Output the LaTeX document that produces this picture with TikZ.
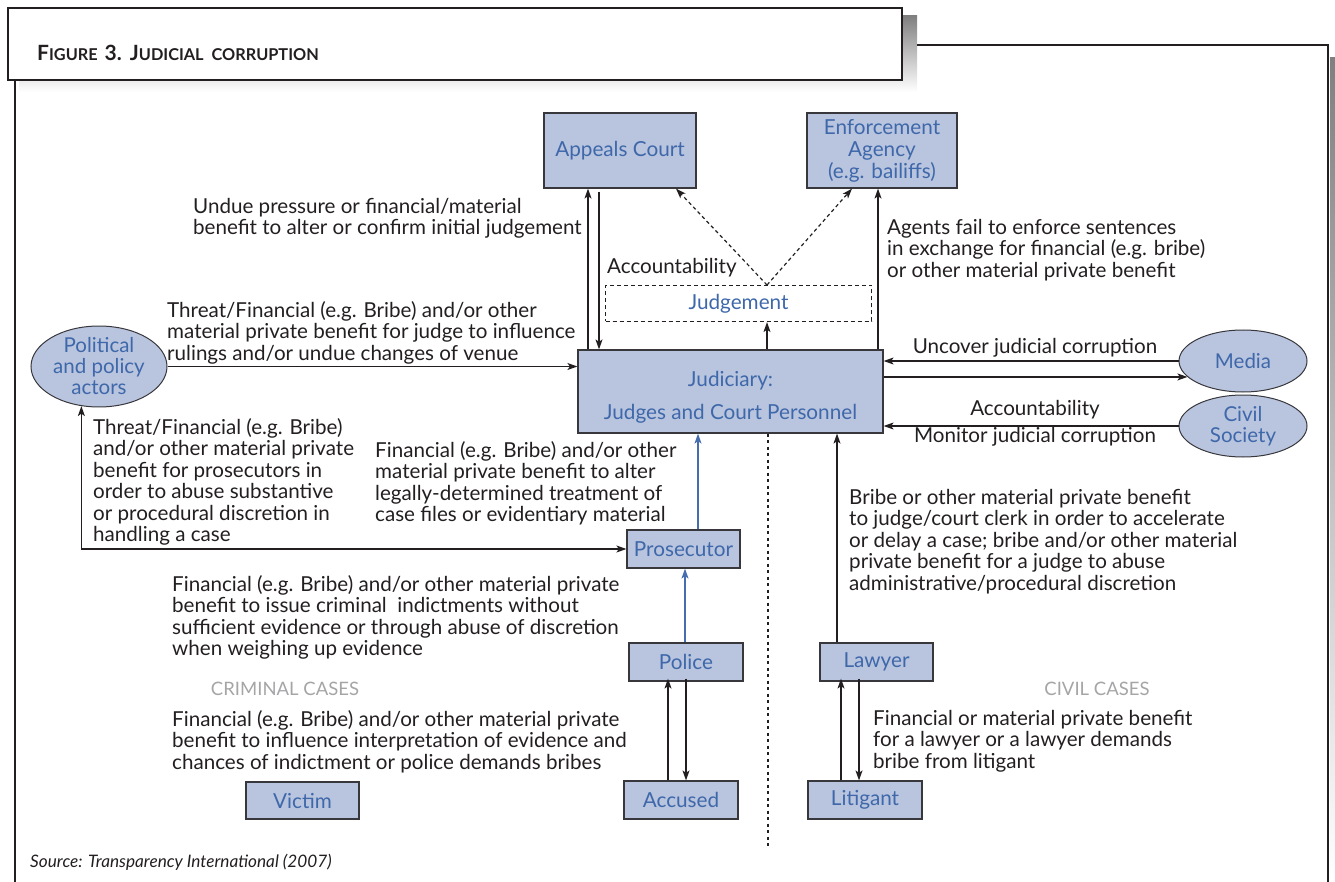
\documentclass[tikz,border=0pt]{standalone}
\usepackage{fontspec}
\setmainfont{Lato}
\usetikzlibrary{shapes.geometric,arrows.meta}
\definecolor{boxfill}{RGB}{185,196,222}
\definecolor{boxtext}{RGB}{62,104,170}
\definecolor{boxline}{RGB}{55,55,60}
\definecolor{shade}{RGB}{221,222,225}
\definecolor{labgray}{RGB}{165,165,168}
\definecolor{arrblue}{RGB}{70,110,175}
\definecolor{txt}{RGB}{35,31,32}
\newcommand\fakesc[2]{{\fontsize{21}{22}\selectfont #1}{\fontsize{16.3}{22}\selectfont #2}}
\begin{document}
\begin{tikzpicture}[x=1pt,y=-1pt,
  box/.style={draw=boxline, line width=1.2pt, fill=boxfill, text=boxtext, inner sep=0pt, align=center, font=\fontsize{20.7}{21.5}\selectfont},
  oval/.style={ellipse, draw=boxline, line width=1pt, fill=boxfill, text=boxtext, inner sep=0pt, align=center, font=\fontsize{20.5}{21}\selectfont},
  lab/.style={anchor=north west, inner sep=0pt, align=left, text=txt, font=\fontsize{20.6}{21.5}\selectfont},
  clab/.style={inner sep=0pt, text=txt, font=\fontsize{20.6}{21.5}\selectfont},
  glab/.style={inner sep=0pt, text=labgray, font=\fontsize{18.5}{20}\selectfont},
  arr/.style={draw=txt, line width=1.2pt, -{Stealth[length=10pt,width=7pt,inset=2.5pt]}},
  arrb/.style={draw=txt, line width=1.2pt, {Stealth[length=10pt,width=7pt,inset=2.5pt]}-{Stealth[length=10pt,width=7pt,inset=2.5pt]}},
  barr/.style={draw=arrblue, line width=1.2pt, -{Stealth[length=10pt,width=7pt,inset=2.5pt]}},
  darr/.style={draw=txt, line width=1.2pt, dash pattern=on 3.5pt off 3pt, -{Stealth[length=10pt,width=7pt,inset=2.5pt]}},
]
\useasboundingbox (0,0) rectangle (1335,882);
% frame
\fill[shade] (19,16) rectangle (917,92);
\fill[shade] (1330,58) rectangle (1335,882);
\draw[line width=1.5pt, draw=txt] (917,45) -- (1328,45) -- (1328,882);
\draw[line width=1.5pt, draw=txt] (15,80) -- (15,882);
\node[draw=txt, line width=1.5pt, fill=white, minimum width=894pt, minimum height=72pt, inner sep=0pt] (titlebox) at (455,44) {};
\node[anchor=west, inner sep=0pt, text=txt] (title) at (37,53) {\textbf{\fakesc{F}{IGURE}\hspace{7pt}{\fontsize{21}{22}\selectfont 3.}\hspace{8pt}\fakesc{J}{UDICIAL}\hspace{8pt}\fakesc{}{CORRUPTION}}};

% nodes
\node[box, minimum width=152pt, minimum height=75pt] (appeals) at (620,150.5) {Appeals Court};
\node[box, minimum width=150pt, minimum height=75pt, font=\fontsize{20.7}{22}\selectfont] (enforce) at (882,150.5) {Enforcement\\Agency\\(e.g. bailiffs)};
\node[draw=txt, line width=1.2pt, dash pattern=on 4pt off 3pt, minimum width=266pt, minimum height=36pt, inner sep=0pt, text=boxtext, font=\fontsize{20.7}{21}\selectfont] (judgement) at (738.5,303.5) {Judgement};
\node[box, minimum width=305pt, minimum height=83pt] (judiciary) at (730.5,391.5) {\rule{0pt}{27pt}Judiciary:\\[12pt]Judges and Court Personnel};
\node[box, minimum width=113pt, minimum height=38pt] (prosecutor) at (683.5,549) {Prosecutor};
\node[box, minimum width=114pt, minimum height=38pt] (police) at (686,662) {Police};
\node[box, minimum width=114pt, minimum height=38pt] (accused) at (681,800) {Accused};
\node[box, minimum width=113pt, minimum height=38pt] (lawyer) at (876.5,662) {Lawyer};
\node[box, minimum width=114pt, minimum height=38pt] (litigant) at (865,800) {Litigant};
\node[box, minimum width=113pt, minimum height=37pt] (victim) at (302.5,800.5) {Victim};
\node[oval, minimum width=136pt, minimum height=77pt] (political) at (99,366.5) {Political\\and policy\\actors};
\node[oval, minimum width=128pt, minimum height=62pt] (media) at (1243,361) {Media};
\node[oval, minimum width=128pt, minimum height=62pt] (civil) at (1243,426) {Civil\\Society};

% divider
\coordinate (divend) at (768,846);
\draw[draw=txt, line width=1.6pt, dash pattern=on 3pt off 3.5pt] (judiciary.south -| divend) -- (divend);

% connectors
\draw[arr] (judiciary.north -| 588,0) -- (appeals.south -| 588,0);
\draw[arr] ([yshift=-3pt]appeals.south -| 599,0) -- (judiciary.north -| 599,0);
\coordinate (apex) at (767,285);
\draw[darr] (apex) -- (appeals.south -| 676,0);
\draw[darr] (apex) -- (enforce.south -| 852,0);
\draw[arr] (judiciary.north -| apex) -- (judgement.south -| apex);
\draw[arr] (judiciary.north -| 878,0) -- (enforce.south -| 878,0);
\draw[arr] (media.west) -- (judiciary.east |- media.west);
\draw[arr] (judiciary.east |- media.196) -- (media.196);
\draw[arr] (civil.west) -- (judiciary.east |- civil.west);
\draw[arr] (political.east) -- (judiciary.west |- political.east);
\draw[arrb] (political.246) |- (prosecutor.west);
\draw[barr] (prosecutor.north -| 698,0) -- (judiciary.south -| 698,0);
\draw[barr] (police.north -| 685,0) -- (prosecutor.south -| 685,0);
\draw[arr] (accused.north -| 668,0) -- ([yshift=3pt]police.south -| 668,0);
\draw[arr] ([yshift=3pt]police.south -| 686,0) -- (accused.north -| 686,0);
\draw[arr] (lawyer.north -| 837,0) -- (judiciary.south -| 837,0);
\draw[arr] (litigant.north -| 841,0) -- ([yshift=3pt]lawyer.south -| 841,0);
\draw[arr] ([yshift=3pt]lawyer.south -| 859,0) -- (litigant.north -| 859,0);

% labels
\node[lab] (l1) at (193,198) {Undue pressure or financial/material\\benefit to alter or confirm initial judgement};
\node[lab] (l2) at (607,258) {Accountability};
\node[lab] (l3) at (887,219) {Agents fail to enforce sentences\\in exchange for financial (e.g. bribe)\\or other material private benefit};
\node[lab] (l4) at (167,301) {Threat/Financial (e.g. Bribe) and/or other\\material private benefit for judge to influence\\rulings and/or undue changes of venue};
\node[lab] (l5) at (93,418) {Threat/Financial (e.g. Bribe)\\and/or other material private\\benefit for prosecutors in\\order to abuse substantive\\or procedural discretion in\\handling a case};
\node[lab] (l6) at (375,441) {Financial (e.g. Bribe) and/or other\\material private benefit to alter\\legally-determined treatment of\\case files or evidentiary material};
\node[lab] (l7) at (172,575) {Financial (e.g. Bribe) and/or other material private\\benefit to issue criminal\ \ indictments without\\sufficient evidence or through abuse of discretion\\when weighing up evidence};
\node[lab] (l8) at (172,710) {Financial (e.g. Bribe) and/or other material private\\benefit to influence interpretation of evidence and\\chances of indictment or police demands bribes};
\node[lab] (l9) at (849,489) {Bribe or other material private benefit\\to judge/court clerk in order to accelerate\\or delay a case; bribe and/or other material\\private benefit for a judge to abuse\\administrative/procedural discretion};
\node[lab] (l10) at (873,710) {Financial or material private benefit\\for a lawyer or a lawyer demands\\bribe from litigant};
\node[clab] (uncover) at (1035,348) {Uncover judicial corruption};
\node[clab] (acc2) at (1035,410) {Accountability};
\node[clab] (monitor) at (1035,437) {Monitor judicial corruption};
\node[glab] (criminal) at (285,689) {CRIMINAL CASES};
\node[glab] (civilcases) at (1097,689) {CIVIL CASES};
\node[anchor=west, inner sep=0pt, text=txt, font=\fontsize{17.2}{18}\selectfont\itshape] (source) at (30,862) {Source: Transparency International (2007)};
\end{tikzpicture}
\end{document}
